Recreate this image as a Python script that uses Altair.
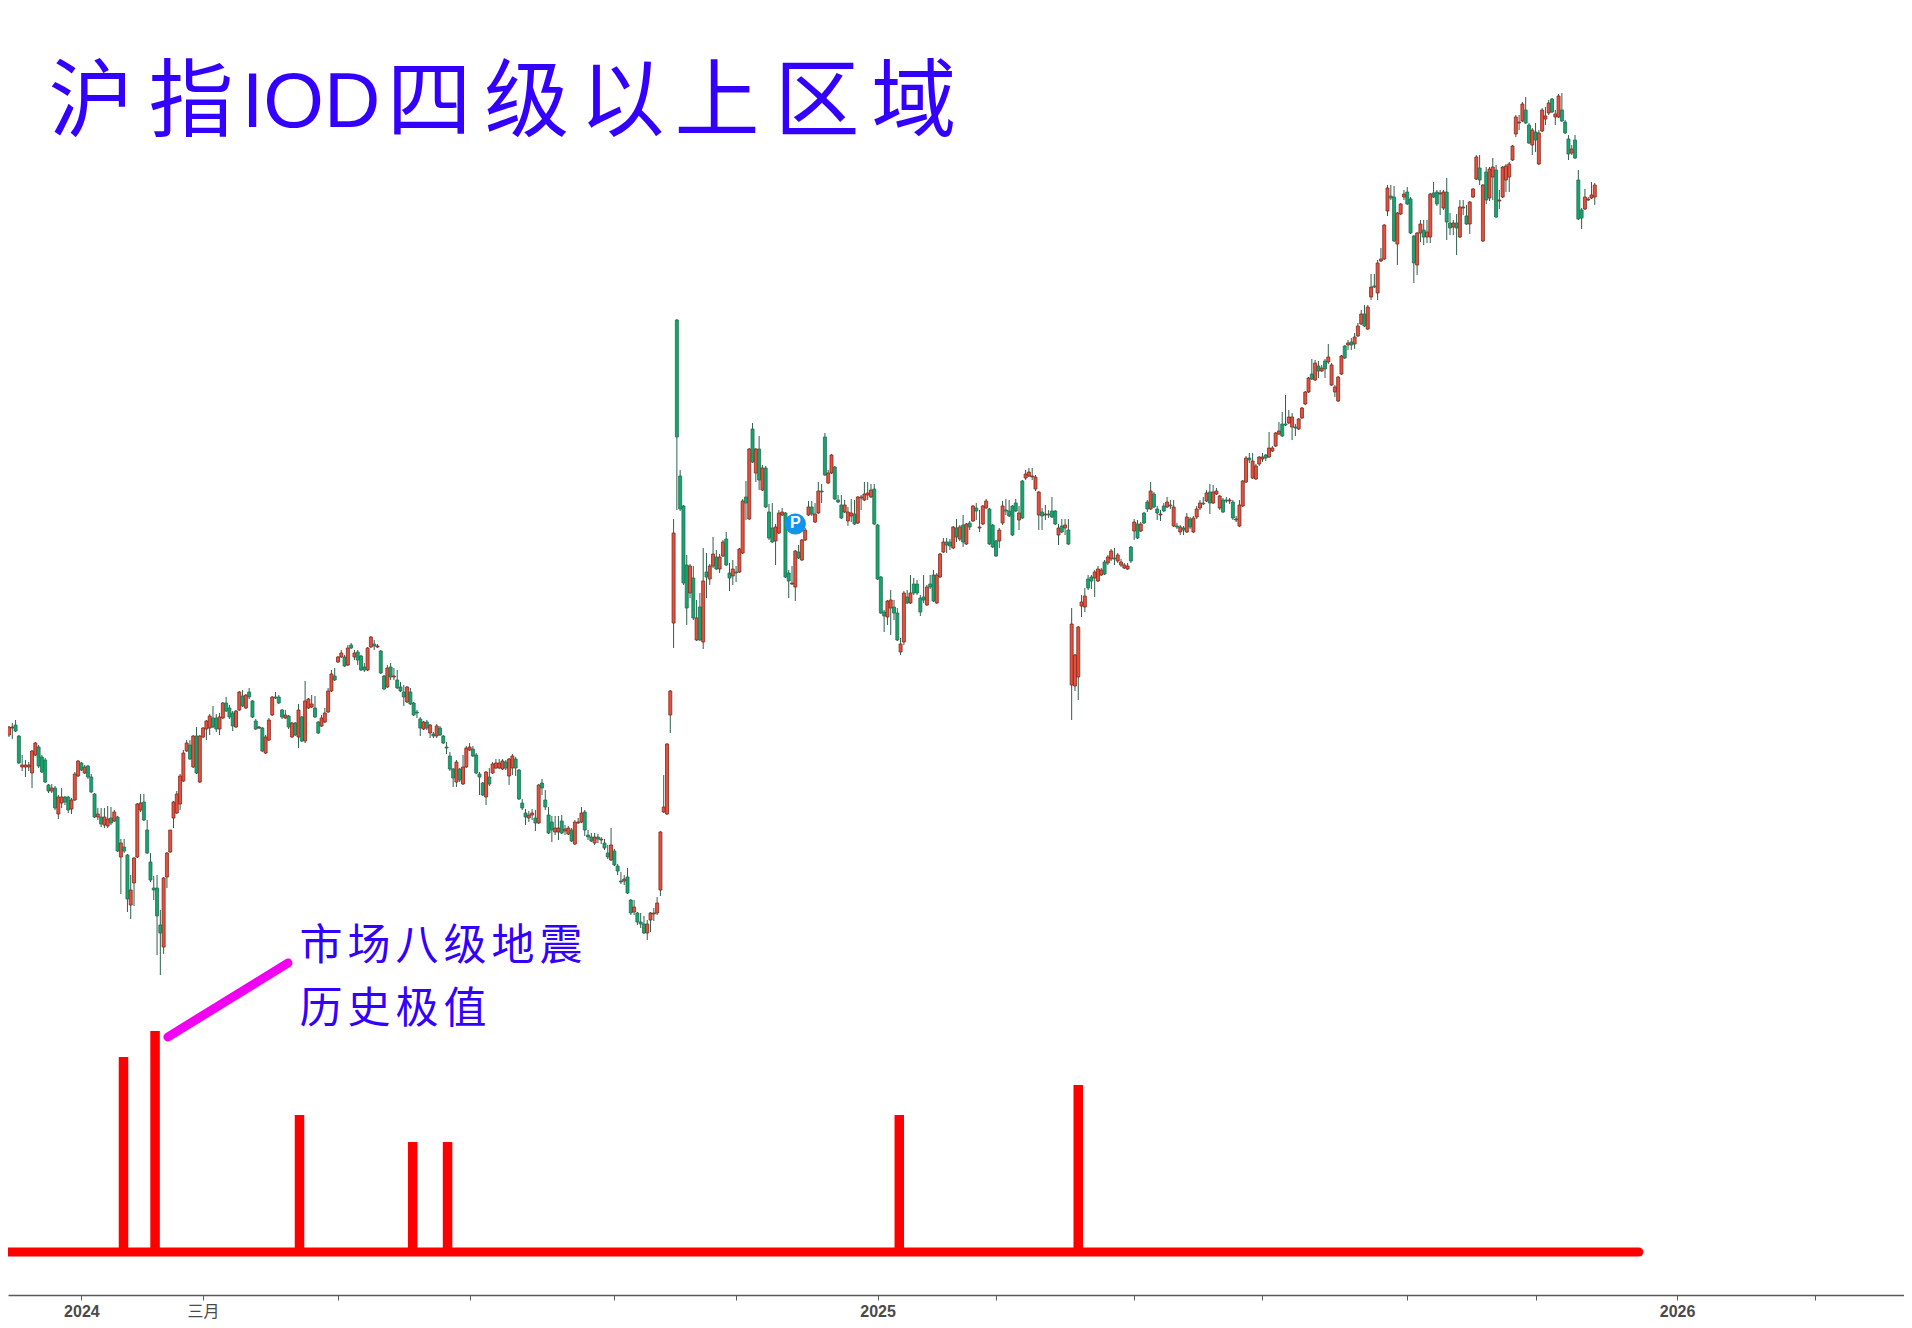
import altair as alt
import pandas as pd

# Candle readings on an unlabelled price level scale (one row = ten sessions)
body_high = [
273,273,275,264,235,235,235,249,257,253, 243,240,215,212,212,203,203,203,203,200,
226,239,237,233,234,223,206,186,183,183, 181,182,188,183,157,153,145,110,142,196,
197,198,170,138,112,112,75,122,147,170, 198,206,224,247,257,255,264,264,264,272,
279,284,282,282,283,297,297,292,287,289, 308,304,305,308,299,279,273,272,263,280,
303,303,303,290,285,284,277,277,290,283, 299,301,296,292,278,282,287,309,326,324,
343,347,343,352,355,347,348,344,333,352, 363,356,354,349,324,332,333,324,320,313,
308,313,308,297,288,281,278,278,275,266, 274,272,264,253,244,231,238,231,233,252,
253,251,245,226,217,228,223,236,237,237, 239,238,241,244,241,230,197,187,185,187,
182,215,217,200,185,178,172,172,179,171, 172,170,178,178,187,188,165,163,163,163,
161,157,147,155,149,134,119,121,123,100, 93,87,78,76,76,87,87,97,168,193,
256,309,467,680,524,494,435,434,422,382, 393,419,428,434,446,443,443,458,461,427,
431,428,451,499,503,551,571,551,551,532, 532,488,472,473,487,488,487,427,417,449,
448,460,470,493,493,486,509,509,563,527, 545,533,500,495,495,488,487,486,503,503,
506,507,510,511,475,423,388,399,400,393, 387,356,407,403,407,416,416,402,403,413,
416,425,425,446,458,458,458,473,472,473, 475,476,477,494,492,473,494,499,491,475,
459,470,494,490,489,494,497,487,519,526, 528,524,523,508,488,486,486,489,489,472,
474,475,470,376,345,373,398,404,421,423, 428,431,430,438,443,449,442,445,438,435,
434,453,478,476,476,487,498,509,506,491, 486,494,498,495,493,474,473,472,483,481,
482,491,497,497,507,508,508,509,504,500, 500,500,498,481,495,519,542,542,539,534,
543,543,545,552,552,567,569,576,576,583, 583,573,581,592,608,622,626,637,634,632,
639,643,635,613,623,644,654,657,658,663, 674,686,686,693,713,714,737,741,775,812,
804,803,787,796,806,808,801,764,767,776, 770,768,806,807,808,807,808,808,777,777,
777,793,793,784,798,811,843,832,815,828, 831,833,830,800,833,834,836,854,883,878,
896,890,875,870,868,867,890,884,897,901, 886,904,890,878,861,851,860,820,790,803,
801,805,815]
body_low = [
265,272,269,237,233,233,233,227,245,234, 228,218,209,209,192,186,197,198,190,191,
200,224,230,227,223,208,183,183,176,175, 174,177,179,149,143,149,101,95,117,143,
190,180,147,120,110,84,67,53,123,148, 182,187,196,219,249,241,233,227,218,263,
271,272,273,271,271,282,289,283,274,273, 290,294,292,303,283,271,272,249,247,260,
285,302,297,283,282,273,263,265,263,259, 259,292,293,283,267,274,278,288,309,320,
338,343,334,335,352,343,340,330,330,330, 353,354,353,327,311,313,323,323,312,309,
303,298,296,285,287,272,271,272,267,264, 264,265,257,252,231,222,218,220,216,233,
250,244,227,223,205,203,216,227,232,232, 231,232,224,232,232,201,192,183,182,185,
177,177,212,193,167,170,168,168,167,169, 166,159,156,177,178,170,163,159,157,161,
160,152,143,140,135,129,118,119,107,87, 88,78,76,67,67,80,86,87,110,188,
186,285,377,563,491,417,392,407,382,360, 360,358,423,421,434,431,431,444,435,422,
424,427,428,447,497,481,538,527,520,510, 493,462,458,459,467,485,423,419,416,413,
442,440,460,485,486,478,487,508,525,517, 527,501,498,482,488,479,484,476,477,502,
500,505,503,476,421,387,384,383,392,387, 360,348,358,397,397,407,407,388,400,395,
413,399,397,423,448,455,454,452,463,461, 458,456,473,479,489,472,476,492,456,453,
444,459,477,489,484,465,489,480,482,522, 524,523,511,485,484,485,485,483,476,465,
468,472,456,315,314,323,394,393,412,419, 422,419,425,426,437,441,441,439,435,432,
431,439,469,462,469,477,491,491,493,487, 485,489,493,494,474,473,468,470,468,473,
468,483,492,496,499,497,497,506,492,488, 499,499,482,480,474,494,518,540,522,521,
536,541,542,543,549,554,566,564,575,577, 573,572,571,582,596,608,621,620,629,629,
631,638,615,608,599,626,642,655,655,656, 664,676,674,671,703,713,707,739,741,789,
802,759,756,786,803,796,767,737,735,767, 763,763,763,803,796,806,792,778,772,773,
772,763,792,776,776,803,821,820,759,800, 802,823,783,799,803,820,823,840,866,877,
879,877,857,855,860,836,869,881,887,888, 883,883,879,867,846,847,842,781,782,791,
800,802,803]
wick_high = [
274,277,280,265,245,240,238,250,258,255, 245,242,216,216,214,205,212,204,204,202,
228,240,238,235,235,226,207,192,192,192, 194,193,190,184,161,161,146,125,143,197,
206,206,180,147,124,125,90,123,148,170, 199,209,226,250,260,260,265,273,265,273,
280,286,294,286,287,298,303,295,289,290, 309,310,306,312,300,281,274,273,265,282,
304,308,305,291,290,285,278,278,296,284, 319,302,305,304,279,285,292,312,330,332,
344,350,345,355,357,350,350,345,337,353, 364,360,356,350,325,335,337,332,330,318,
315,314,312,298,290,283,279,280,276,268, 276,274,265,258,248,232,240,232,245,254,
257,254,247,228,218,229,232,238,241,241, 241,240,242,246,243,231,201,191,189,191,
190,216,221,210,193,184,184,184,185,175, 174,172,180,182,193,190,170,167,167,166,
163,161,155,172,151,136,128,125,132,101, 100,88,87,84,80,88,92,103,169,225,
257,310,481,681,530,495,445,436,434,400, 407,452,447,436,463,450,446,460,468,437,
440,434,452,501,519,552,577,552,564,535, 534,496,497,476,490,492,488,430,434,450,
455,461,472,499,499,497,518,516,567,530, 546,534,505,505,500,493,501,500,504,505,
518,518,516,516,476,424,390,400,410,400, 392,362,409,410,425,422,420,405,425,415,
425,430,427,447,462,462,461,474,481,475, 485,477,479,495,497,490,495,501,492,476,
460,472,499,501,500,495,501,494,520,530, 532,532,525,509,492,495,490,503,490,476,
481,481,481,392,346,374,405,412,425,425, 430,434,432,440,445,451,452,447,441,437,
437,454,481,480,478,488,500,518,508,494, 490,497,503,500,500,477,475,474,487,483,
484,494,500,503,510,516,515,512,505,502, 503,502,500,484,500,520,544,547,547,536,
544,547,546,568,554,568,578,588,605,590, 587,576,582,593,609,623,641,640,639,635,
641,656,637,615,624,645,655,660,662,667, 677,690,695,695,726,726,740,752,776,815,
815,814,788,797,810,813,803,765,768,780, 780,780,807,818,810,810,810,822,787,780,
786,800,800,795,799,812,845,845,816,833, 833,842,835,810,834,836,838,855,885,885,
898,903,877,872,877,870,892,893,900,902, 890,906,907,880,865,855,865,830,792,811,
803,818,817]
wick_low = [
263,261,268,236,229,223,229,212,244,232, 227,217,207,207,190,181,192,195,187,186,
199,223,229,226,221,207,182,180,173,172, 172,175,178,148,106,147,88,81,94,142,
188,179,146,118,100,45,25,46,112,147, 172,186,190,218,248,240,232,226,217,262,
260,265,272,268,265,281,288,281,269,272, 289,293,291,301,282,270,271,248,246,259,
284,301,296,281,281,271,262,264,252,258, 257,291,292,282,266,273,277,287,308,319,
337,342,333,334,351,340,335,329,328,329, 352,350,352,326,310,312,320,320,311,308,
294,297,295,284,282,264,270,270,262,262, 262,264,256,246,229,213,213,218,215,232,
249,243,226,205,204,195,214,226,231,231, 230,230,215,225,224,200,190,175,178,180,
169,176,205,190,166,158,165,160,166,165, 165,158,155,176,177,164,160,158,155,157,
156,150,141,139,134,125,116,115,106,85, 85,75,72,66,60,68,79,85,104,187,
185,267,352,490,489,415,375,402,380,359, 359,351,402,415,432,430,427,443,434,409,
415,418,427,446,480,480,537,518,510,509, 492,460,457,435,466,484,422,402,415,399,
441,439,459,484,484,477,486,497,524,516, 526,500,497,481,487,474,478,475,476,490,
499,500,502,475,420,386,368,375,365,380, 359,345,355,396,396,405,405,384,397,394,
411,398,396,422,447,447,450,451,458,459, 453,455,470,478,480,468,475,491,455,452,
443,452,475,485,483,464,488,470,481,520, 523,520,509,470,470,480,482,482,475,455,
467,465,455,280,309,300,383,388,410,411, 403,418,424,425,435,439,435,437,433,431,
430,437,460,461,468,476,488,490,492,480, 479,488,492,491,473,471,465,465,467,471,
467,481,490,495,498,486,496,505,490,487, 497,496,480,478,473,493,517,537,521,520,
534,538,539,542,548,553,565,563,574,576, 560,564,570,581,595,607,620,619,622,628,
622,636,614,603,598,625,641,650,650,651, 663,675,673,670,700,712,700,738,740,784,
800,758,735,785,800,795,766,717,725,758, 755,757,757,802,794,785,790,760,765,765,
745,762,785,775,766,802,820,815,758,796, 799,800,782,791,802,808,808,839,863,870,
878,876,856,845,848,835,868,875,885,887, 875,882,878,866,840,845,841,780,771,790,
799,801,795]
direction = (
"RRGGRRRRRG" "GGGRGRRGGR" "RRGRGGGRGR" "RGRGRGGRRR" "RGGGGGGRRR" "RRRRRGRGRR"
"RRGGRRGGGR" "RGRGGGRGRR" "RGGGRGRGRG" "RRRGGRRRRG" "RRGRGRGGGR" "RGRGGRGRGG"
"GRGGGGRGRG" "RGGGGGRGRR" "RGGGGRGRRR" "RGRRGGGGRR" "GRGGGGRRGR" "RGRRRGGGRG"
"RGGRGGGRGG" "RGGGRRRRRR" "RRRGGGGRGR" "GRGRRGRRGG" "RGRRGRGRGR" "GGGRRRGGRR"
"GRRRGRRGGR" "RGGGRRRGRR" "RRRGGGGRRG" "GRRGRGGGGR" "GGRRRGGRGR" "GRGRGRRRGG"
"GRRGGGGRGR" "RRRRGRGGGR" "GRGRRRRRGG" "RRRGRRGRRR" "RGRGRGGRGG" "RGRGRGRGRG"
"RRRGRGRRRG" "GRGRRRRGRR" "RRGRRRRGGR" "RGRRRRGRGR" "GRRRRRGRGR" "RRGRRGRRRR"
"GGRRRGGGRR" "GRRGGRRGGR" "GRRGRRRGRG" "RRGRRRRRRR" "RGGRGRRRRG" "RRGGGRGGGR"
"RRR"
)

# Indicator spikes: session, height
spike_session = [34.8, 44.4, 88.3, 122.7, 133.3, 270.6, 325]
spike_height = [195, 221, 137, 110, 110, 137, 167]
baseline_end = 495.4

# Bottom axis
tick_sessions = [22, 59, 100, 140, 184, 221, 264, 300, 342, 381, 425, 464, 507, 549]
tick_names = {22: "2024", 59: "三月", 264: "2025", 507: "2026"}

title_parts = ["沪", "指", "IOD", "四", "级", "以", "上", "区", "域"]
title_session = [24.9, 55.3, 91.8, 127.7, 157.4, 186.3, 215.2, 245.6, 275.0]
note_line1 = ["市", "场", "八", "级", "地", "震"]
note_line2 = ["历", "史", "极", "值"]
pointer_session = [48.3, 84.8]
pointer_level = [-37, 37]
marker_session = 239.0
marker_level = 476

PITCH = 3.29
W, H = 1896, 1287
x_scale = alt.Scale(domain=[-1 / PITCH, (W - 1) / PITCH], nice=False, zero=False, padding=0)
y_scale = alt.Scale(domain=[-295, 992], nice=False, zero=False)
ind_scale = alt.Scale(domain=[-43, 1244], nice=False, zero=False)

candles = pd.DataFrame({
    "s": range(len(body_high)), "top": body_high, "bot": body_low,
    "hi": wick_high, "lo": wick_low, "dir": list(direction),
})
assert len({len(body_high), len(body_low), len(wick_high), len(wick_low), len(direction)}) == 1

label_map = "{" + ",".join(f"'{k}':'{v}'" for k, v in tick_names.items()) + "}"
x_axis = alt.Axis(
    values=tick_sessions, labelExpr=f"({label_map})[datum.value]||''", grid=False,
    domainColor="#5a5a5a", domainWidth=1.5, tickColor="#5a5a5a", tickSize=5, tickWidth=1,
    labelColor="#4a4a4a", labelFont="Liberation Sans, Noto Sans CJK SC", labelFontSize=16,
    labelFontWeight={"condition": {"test": "datum.value==59", "value": "normal"}, "value": "bold"},
    labelPadding=3, labelOverlap=False, labelFlush=False)
x_enc = alt.X("s:Q", scale=x_scale, title=None, axis=x_axis)
y_kw = dict(scale=y_scale, axis=None)

wicks = alt.Chart(candles).mark_rule(color="#2f5f4b", strokeWidth=1).encode(
    x=x_enc, y=alt.Y("hi:Q", **y_kw), y2="lo:Q")
bodies = alt.Chart(candles).mark_bar(size=3, strokeWidth=0.8).encode(
    x=x_enc, y=alt.Y("top:Q", **y_kw), y2="bot:Q",
    fill=alt.Fill("dir:N", scale=alt.Scale(domain=["R", "G"], range=["#e8503c", "#0fa86e"]), legend=None),
    stroke=alt.Stroke("dir:N", scale=alt.Scale(domain=["R", "G"], range=["#7f2a20", "#2a6a52"]), legend=None))

pointer = alt.Chart(pd.DataFrame({"s": [pointer_session[0]], "s2": [pointer_session[1]],
                                  "l": [pointer_level[0]], "l2": [pointer_level[1]]})
    ).mark_rule(color="#f200f2", strokeWidth=9, strokeCap="round").encode(
    x=x_enc, x2="s2:Q", y=alt.Y("l:Q", **y_kw), y2="l2:Q")
badge = alt.Chart(pd.DataFrame({"s": [marker_session], "l": [marker_level]})
    ).mark_circle(size=450, color="#0f95ee", opacity=1).encode(x=x_enc, y=alt.Y("l:Q", **y_kw))
badge_t = alt.Chart(pd.DataFrame({"s": [marker_session], "l": [marker_level + 1], "t": ["P"]})
    ).mark_text(font="Liberation Sans", fontWeight="bold", fontSize=16, color="white", baseline="middle", align="center"
    ).encode(x=x_enc, y=alt.Y("l:Q", **y_kw), text="t:N")

title_df = pd.DataFrame({"s": title_session, "l": [896] * len(title_parts), "t": title_parts})
title_cjk = alt.Chart(title_df[title_df.t != "IOD"]).mark_text(
    font="Noto Sans CJK SC", fontSize=85, color="#3300ff", baseline="middle", align="center"
).encode(x=x_enc, y=alt.Y("l:Q", **y_kw), text="t:N")
title_lat = alt.Chart(title_df[title_df.t == "IOD"]).mark_text(
    font="Liberation Sans", fontSize=78, color="#3300ff", baseline="middle", align="center"
).encode(x=x_enc, y=alt.Y("l:Q", **y_kw), text="t:N")

notes = []
for level, chars in ((53, note_line1), (-10, note_line2)):
    notes.append(pd.DataFrame({"s": [94.8 + 14.6 * i for i in range(len(chars))],
                               "l": [level] * len(chars), "t": chars}))
note = alt.Chart(pd.concat(notes)).mark_text(
    font="Noto Sans CJK SC", fontSize=43, color="#3300ff", baseline="middle", align="center"
).encode(x=x_enc, y=alt.Y("l:Q", **y_kw), text="t:N")

spikes = alt.Chart(pd.DataFrame({"s": spike_session, "h": spike_height})).mark_bar(size=9.5, color="#ff0000").encode(
    x=x_enc, y=alt.Y("h:Q", scale=ind_scale, axis=None), y2=alt.Y2(datum=0))
base = alt.Chart(pd.DataFrame({"s": [-1 / PITCH], "s2": [baseline_end], "h": [0]})).mark_rule(
    color="#ff0000", strokeWidth=9, strokeCap="round").encode(
    x=x_enc, x2="s2:Q", y=alt.Y("h:Q", scale=ind_scale, axis=None))

upper = alt.layer(wicks, bodies, pointer, badge, badge_t, title_cjk, title_lat, note)
lower = alt.layer(spikes, base)
chart = alt.layer(upper, lower).resolve_scale(y="independent", fill="independent", stroke="independent").properties(
    width=W, height=H, background="white",
    padding={"left": 0, "top": 0, "right": 0, "bottom": 25},
    autosize=alt.AutoSizeParams(type="none"),
).configure_view(stroke=None).configure_axis(grid=False)

chart.save("out.html", embed_options={"renderer": "svg", "actions": False})
